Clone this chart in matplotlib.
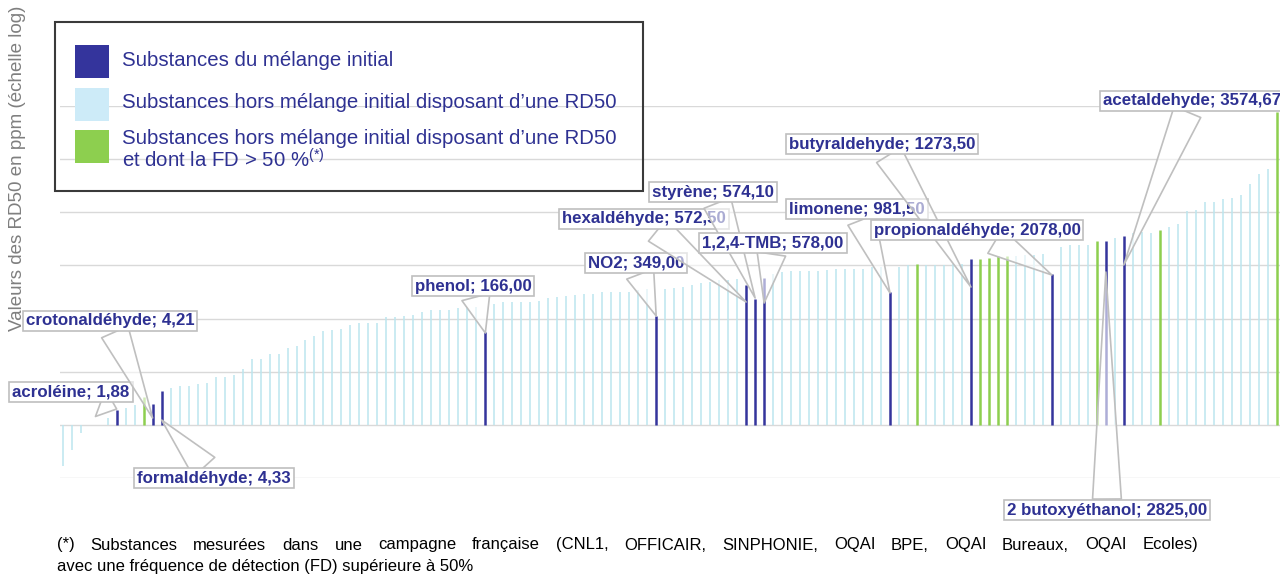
import matplotlib
matplotlib.use("Agg")
import matplotlib.pyplot as plt
from matplotlib.patches import Rectangle
from matplotlib.ticker import NullLocator, FixedLocator

plt.rcParams['font.family'] = ['Liberation Sans', 'DejaVu Sans']
plt.rcParams['mathtext.fontset'] = 'custom'
plt.rcParams['mathtext.rm'] = 'Liberation Sans'

# RD50 values (ppm), one per substance, in plotted order
rd50 = [0.17, 0.33, 0.7, 1.0, 1.0, 1.36, 1.9, 2.1, 2.4, 3.3,
        2.5, 4.3, 5.0, 5.5, 5.5, 6.0, 6.2, 8.0, 8.0, 8.5,
        11.4, 17, 17.5, 22, 22, 28.5, 31, 40, 46, 59,
        61, 63, 75, 82, 82, 82, 106, 106, 113, 117,
        132, 146, 146, 146, 157, 164, 164, 55, 189, 204,
        204, 204, 204, 215, 240, 260, 265, 272, 293, 293,
        315, 315, 315, 315, 339, 355, 113, 363, 375, 393,
        434, 473, 487, 525, 525, 565, 421, 235, 580, 702,
        754, 780, 790, 780, 780, 810, 845, 845, 870, 870,
        937, 937, 316, 937, 1009, 1087, 1009, 1009, 1009, 1050,
        1050, 1350, 1350, 1400, 1500, 1500, 1500, 1550, 1600, 1650,
        680, 2255, 2430, 2430, 2430, 2900, 2900, 3230, 3575, 4030,
        4330, 4030, 4650, 5400, 5980, 10400, 11100, 15900, 15900, 18000,
        18500, 21500, 34300, 53100, 64000, 760000]

# m = mélange initial, h = hors mélange, f = hors mélange et FD > 50 %
groups = list("hhhhhhmhhf"
              "mmhhhhhhhh"
              "hhhhhhhhhh"
              "hhhhhhhhhh"
              "hhhhhhhmhh"
              "hhhhhhhhhh"
              "hhhhhhmhhh"
              "hhhhhhmmmh"
              "hhhhhhhhhh"
              "hhmhhfhhhh"
              "hmffffhhhh"
              "mhhhhfmhmh"
              "hhfhhhhhhh"
              "hhhhhf")

label_idx = [6, 10, 11, 47, 66, 76, 77, 78, 92, 101, 110, 116, 118]
label_txt = ["acroléine; 1,88", "crotonaldéhyde; 4,21", "formaldéhyde; 4,33",
             "phenol; 166,00", "NO2; 349,00", "hexaldéhyde; 572,50",
             "styrène; 574,10", "1,2,4-TMB; 578,00", "limonene; 981,50",
             "butyraldehyde; 1273,50", "propionaldéhyde; 2078,00",
             "2 butoxyéthanol; 2825,00", "acetaldehyde; 3574,67"]

legend_txt = ["Substances du mélange initial",
              "Substances hors mélange initial disposant d\u2019une RD50",
              "Substances hors mélange initial disposant d\u2019une RD50"]

W, H = 1280, 576
NAVY = '#2E3192'
COLORS = {'m': '#34349C', 'h': '#BCE5EF', 'f': '#8DCF4F'}
LW = {'m': 1.8, 'h': 1.1, 'f': 1.8}


def fx(px):
    return px / W


def fy(py):
    return 1 - py / H


fig = plt.figure(figsize=(W / 100, H / 100), dpi=100)
ax = fig.add_axes([fx(60), fy(478), fx(1220), 372 / H])
ax.set_yscale('log')
ax.set_ylim(0.1, 1e6)
ax.set_xlim(-0.3, len(rd50) - 1 + 0.37)

xs = list(range(len(rd50)))
ax.vlines(xs, 1, rd50, colors=[COLORS[g] for g in groups],
          linewidths=[LW[g] for g in groups], zorder=2)

ax.yaxis.set_major_locator(FixedLocator([10.0 ** k for k in range(-1, 7)]))
ax.yaxis.set_minor_locator(NullLocator())
ax.grid(axis='y', color='#D9D9D9', lw=1)
ax.set_axisbelow(True)
ax.tick_params(left=False, bottom=False, labelleft=False, labelbottom=False)
for s in ax.spines.values():
    s.set_visible(False)

# callout layout: box centre (px from top-left) and tip height (px)
callouts = [(71, 392, 409), (110, 321, 418), (214, 478, 420),
            (473, 286, 333), (636, 263, 316), (644, 219, 302),
            (713, 192, 298), (773, 243, 303), (857, 209, 293),
            (882, 144, 287), (977, 230, 275), (1107, 510, 272),
            (1192, 101, 265)]

for i, txt, (bx, by, ty) in zip(label_idx, label_txt, callouts):
    ax.annotate(txt, xy=(i, H - ty), xycoords=('data', 'figure pixels'),
                xytext=(bx, H - by), textcoords='figure pixels',
                ha='center', va='center', fontsize=12.2, fontweight='bold',
                color=NAVY, annotation_clip=False, zorder=5,
                bbox=dict(boxstyle='square,pad=0.17', fc='white',
                          ec='#BFBFBF', lw=1.2),
                arrowprops=dict(arrowstyle='wedge,tail_width=1.7,shrink_factor=0.5',
                                fc=(1, 1, 1, 0.6), ec='#BFBFBF', lw=1.2,
                                shrinkA=0, shrinkB=0))

# legend box
fig.add_artist(Rectangle((fx(55), fy(191)), fx(588), 169 / H,
                         transform=fig.transFigure, fill=False,
                         ec='#3A3A3A', lw=1.5))
for (top, key) in [(45, 'm'), (88, 'h'), (130, 'f')]:
    fig.add_artist(Rectangle((fx(75), fy(top + 33)), fx(34), 33 / H,
                             transform=fig.transFigure, lw=0,
                             fc='#CDEBF8' if key == 'h' else COLORS[key]))
for y, t in zip([61, 103, 138], legend_txt):
    fig.text(fx(122), fy(y), t, fontsize=14.7, color=NAVY, va='center')
fig.text(fx(122), fy(160), r"et dont la FD > 50 %$^{\mathrm{(*)}}$",
         fontsize=14.7, color=NAVY, va='center')

fig.text(fx(18), fy(168), "Valeurs des RD50 en ppm (échelle log)",
         rotation=90, ha='center', va='center', fontsize=13.5, color='#7F7F7F')

# footnote, first line justified
line1 = ("(*) Substances mesurées dans une campagne française (CNL1, OFFICAIR, "
         "SINPHONIE, OQAI BPE, OQAI Bureaux, OQAI Ecoles)")
line2 = "avec une fréquence de détection (FD) supérieure à 50%"
words = line1.split()
wtexts = [fig.text(0, fy(545), w, fontsize=12, va='center') for w in words]
fig.canvas.draw()
r = fig.canvas.get_renderer()
widths = [t.get_window_extent(r).width for t in wtexts]
gap = (1198 - 57 - sum(widths)) / (len(words) - 1)
x = 57
for t, w in zip(wtexts, widths):
    t.set_x(fx(x))
    x += w + gap
fig.text(fx(57), fy(566), line2, fontsize=12, va='center')

fig.savefig("out.png", dpi=100)
